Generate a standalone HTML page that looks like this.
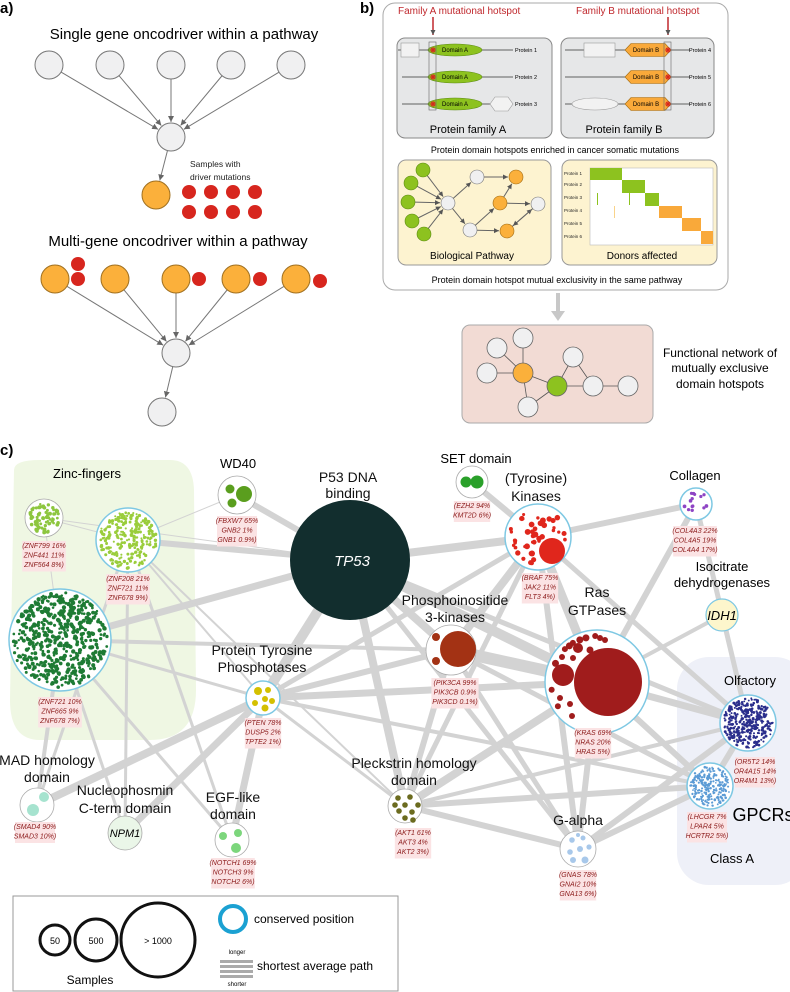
<!DOCTYPE html>
<html><head><meta charset="utf-8">
<style>
html,body{margin:0;padding:0;background:#fff;}
svg{display:block;font-family:"Liberation Sans",sans-serif;}
.g{font-style:italic;fill:#8b1a1a;font-size:7px;text-anchor:middle;}
.lab{font-size:14px;text-anchor:middle;fill:#111;}
</style></head><body>
<svg id="s" width="790" height="992" viewBox="0 0 790 992" xmlns="http://www.w3.org/2000/svg">
<defs>
<marker id="ah" markerWidth="7" markerHeight="7" refX="6" refY="3" orient="auto" markerUnits="userSpaceOnUse"><path d="M0,0 L6,3 L0,6 z" fill="#666"/></marker>
<marker id="ah2" markerWidth="6" markerHeight="6" refX="5" refY="2.5" orient="auto" markerUnits="userSpaceOnUse"><path d="M0,0 L5,2.5 L0,5 z" fill="#555"/></marker>
</defs>
<!-- panel a -->
<text x="0" y="13" font-size="15" font-weight="bold">a)</text>
<text x="184" y="39" font-size="15" text-anchor="middle">Single gene oncodriver within a pathway</text>
<g id="pa"></g>
<text x="190" y="167" font-size="8.5" fill="#222">Samples with</text>
<text x="190" y="180" font-size="8.5" fill="#222">driver mutations</text>
<text x="178" y="246" font-size="15" text-anchor="middle">Multi-gene oncodriver within a pathway</text>

<!-- panel b -->
<text x="360" y="13" font-size="15" font-weight="bold">b)</text>
<rect x="383" y="3" width="345" height="287" rx="12" fill="#fff" stroke="#aaa" stroke-width="1"/>
<text x="398" y="14" font-size="10" fill="#c0282d">Family A mutational hotspot</text>
<text x="576" y="14" font-size="10" fill="#c0282d">Family B mutational hotspot</text>
<rect x="397" y="38" width="155" height="100" rx="8" fill="#e6e7e8" stroke="#888"/>
<rect x="561" y="38" width="153" height="100" rx="8" fill="#e6e7e8" stroke="#888"/>
<g id="pb"></g>
<text x="468" y="133" font-size="11" text-anchor="middle">Protein family A</text>
<text x="624" y="133" font-size="11" text-anchor="middle">Protein family B</text>
<text x="555" y="153" font-size="9" text-anchor="middle">Protein domain hotspots enriched in cancer somatic mutations</text>
<rect x="398" y="160" width="153" height="105" rx="8" fill="#fdf3d0" stroke="#999"/>
<rect x="562" y="160" width="155" height="105" rx="8" fill="#fdf3d0" stroke="#999"/>
<g id="pbio"></g>
<text x="472" y="259" font-size="10" text-anchor="middle">Biological Pathway</text>
<rect x="590" y="168" width="123" height="77" fill="#fff" stroke="#bbb" stroke-width="0.6"/>
<rect x="590" y="168" width="32" height="12" fill="#8dc21f"/>
<rect x="622" y="180" width="23" height="13" fill="#8dc21f"/>
<rect x="645" y="193" width="14" height="13" fill="#8dc21f"/>
<rect x="659" y="206" width="23" height="12" fill="#f9a93a"/>
<rect x="682" y="218" width="19" height="13" fill="#f9a93a"/>
<rect x="701" y="231" width="12" height="13" fill="#f9a93a"/>
<rect x="597" y="193" width="1" height="12" fill="#8dc21f"/>
<rect x="629" y="193" width="1" height="12" fill="#8dc21f"/>
<rect x="614" y="206" width="1" height="12" fill="#f9d38a"/>
<g font-size="4.5" fill="#222">
<text x="564" y="175">Protein 1</text><text x="564" y="186">Protein 2</text><text x="564" y="199">Protein 3</text>
<text x="564" y="212">Protein 4</text><text x="564" y="225">Protein 5</text><text x="564" y="238">Protein 6</text></g>
<text x="642" y="259" font-size="10" text-anchor="middle">Donors affected</text>
<text x="557" y="283" font-size="9" text-anchor="middle">Protein domain hotspot mutual exclusivity in the same pathway</text>
<line x1="558" y1="293" x2="558" y2="312" stroke="#c8c8c8" stroke-width="4"/>
<path d="M551,311 L565,311 L558,321 z" fill="#c8c8c8"/>
<rect x="462" y="325" width="191" height="98" rx="8" fill="#f2dbd4" stroke="#aaa"/>
<g id="pfn"></g>
<g font-size="12" text-anchor="middle"><text x="720" y="357">Functional network of</text><text x="720" y="372">mutually exclusive</text><text x="720" y="388">domain hotspots</text></g>

<!-- panel c -->
<text x="0" y="455" font-size="15" font-weight="bold">c)</text>
<path d="M14,470 Q14,460 40,460 L170,460 Q193,460 194,490 L196,690 Q196,740 150,740 L40,740 Q10,740 10,700 Z" fill="#eff7e3"/>
<rect x="677" y="657" width="130" height="228" rx="32" fill="#eef0f8"/>
<g id="edges" stroke="#d3d3d3" stroke-linecap="butt"></g>
<g id="nodes"></g>
<text x="87" y="478" font-size="13" text-anchor="middle">Zinc-fingers</text>
<text x="238" y="468" font-size="13" text-anchor="middle">WD40</text>
<text x="348" y="482" class="lab">P53 DNA</text><text x="348" y="498" class="lab">binding</text>
<text x="476" y="463" font-size="13" text-anchor="middle">SET domain</text>
<text x="536" y="483" class="lab">(Tyrosine)</text><text x="536" y="501" class="lab">Kinases</text>
<text x="695" y="480" font-size="13" text-anchor="middle">Collagen</text>
<text x="722" y="571" font-size="13" text-anchor="middle">Isocitrate</text>
<text x="722" y="587" font-size="13" text-anchor="middle">dehydrogenases</text>
<text x="455" y="605" class="lab">Phosphoinositide</text><text x="455" y="622" class="lab">3-kinases</text>
<text x="597" y="597" class="lab">Ras</text><text x="597" y="615" class="lab">GTPases</text>
<text x="750" y="685" font-size="13" text-anchor="middle">Olfactory</text>
<text x="763" y="821" font-size="18" text-anchor="middle">GPCRs</text>
<text x="732" y="863" font-size="13" text-anchor="middle">Class A</text>
<text x="578" y="825" class="lab">G-alpha</text>
<text x="414" y="768" class="lab">Pleckstrin homology</text><text x="414" y="785" class="lab">domain</text>
<text x="262" y="655" class="lab">Protein Tyrosine</text><text x="262" y="672" class="lab">Phosphotases</text>
<text x="47" y="765" class="lab">MAD homology</text><text x="47" y="782" class="lab">domain</text>
<text x="125" y="795" class="lab">Nucleophosmin</text><text x="125" y="813" class="lab">C-term domain</text>
<text x="233" y="802" class="lab">EGF-like</text><text x="233" y="819" class="lab">domain</text>
<g id="gl"></g>
<text x="352" y="566" font-size="15" fill="#fff" font-style="italic" text-anchor="middle">TP53</text>
<text x="722" y="620" font-size="13" font-style="italic" text-anchor="middle">IDH1</text>
<text x="125" y="837" font-size="11" font-style="italic" text-anchor="middle">NPM1</text>

<!-- legend -->
<rect x="13" y="896" width="385" height="95" fill="#fff" stroke="#999"/>
<circle cx="55" cy="940" r="15" fill="none" stroke="#111" stroke-width="3"/>
<circle cx="96" cy="940" r="21" fill="none" stroke="#111" stroke-width="3"/>
<circle cx="158" cy="940" r="37" fill="none" stroke="#111" stroke-width="3"/>
<text x="55" y="944" font-size="9" text-anchor="middle">50</text>
<text x="96" y="944" font-size="9" text-anchor="middle">500</text>
<text x="158" y="944" font-size="9" text-anchor="middle">&gt; 1000</text>
<text x="90" y="984" font-size="12" text-anchor="middle">Samples</text>
<circle cx="233" cy="919" r="13" fill="none" stroke="#1ba1d2" stroke-width="4"/>
<text x="254" y="923" font-size="12">conserved position</text>
<text x="237" y="954" font-size="6" text-anchor="middle">longer</text>
<rect x="220" y="960" width="33" height="3" fill="#aaa"/><rect x="220" y="965" width="33" height="3" fill="#aaa"/>
<rect x="220" y="970" width="33" height="3" fill="#aaa"/><rect x="220" y="975" width="33" height="3" fill="#aaa"/>
<text x="237" y="986" font-size="6" text-anchor="middle">shorter</text>
<text x="257" y="970" font-size="12">shortest average path</text>
</svg>
<script>
(function(){
var NS="http://www.w3.org/2000/svg";
function el(p,t,a){var e=document.createElementNS(NS,t);for(var k in a)e.setAttribute(k,a[k]);p.appendChild(e);return e;}
function gid(i){return document.getElementById(i);}
function C(p,x,y,r,f,s,sw){return el(p,"circle",{cx:x,cy:y,r:r,fill:f,stroke:s||"none","stroke-width":sw||1});}
function arr(p,a,b,col,m){var dx=b[0]-a[0],dy=b[1]-a[1],d=Math.sqrt(dx*dx+dy*dy);
 el(p,"line",{x1:a[0]+dx/d*a[2],y1:a[1]+dy/d*a[2],x2:b[0]-dx/d*(b[2]+1),y2:b[1]-dy/d*(b[2]+1),stroke:col||"#777","stroke-width":1,"marker-end":"url(#"+(m||"ah")+")"});}
var pa=gid("pa"),gr="#f0f0f1",gs="#777",or="#fbb03b",rd="#d7261e";
var tops=[49,110,171,231,291],c1=[171,137,14];
tops.forEach(function(x){arr(pa,[x,65,14],c1);});
tops.forEach(function(x){C(pa,x,65,14,gr,gs);});
arr(pa,c1,[156,195,14]);C(pa,171,137,14,gr,gs);C(pa,156,195,14,or,"#a07020");
[189,211,233,255].forEach(function(x){C(pa,x,192,7,rd);C(pa,x,212,7,rd);});
var oxs=[55,115,176,236,296],c2=[176,353,14];
oxs.forEach(function(x){arr(pa,[x,279,14],c2);});
arr(pa,c2,[162,412,14]);
oxs.forEach(function(x){C(pa,x,279,14,or,"#a07020");});
C(pa,176,353,14,gr,gs);C(pa,162,412,14,gr,gs);
[[78,264],[78,279],[199,279],[260,279],[320,281]].forEach(function(q){C(pa,q[0],q[1],7,rd);});
var pb=gid("pb");
function star(x,y){el(pb,"path",{d:"M"+(x-3)+","+y+"h6M"+x+","+(y-3)+"v6M"+(x-2)+","+(y-2)+"l4,4M"+(x+2)+","+(y-2)+"l-4,4",stroke:"#d7261e","stroke-width":1});}
[50,77,104].forEach(function(y,i){
 el(pb,"line",{x1:i==0?398:402,y1:y,x2:513,y2:y,stroke:"#333","stroke-width":0.8});
 el(pb,"ellipse",{cx:455,cy:y,rx:27,ry:6,fill:"#8dc21f",stroke:"#5a8a10","stroke-width":0.6});
 el(pb,"text",{x:455,y:y+2,"font-size":6,"text-anchor":"middle"}).textContent="Domain A";
 star(433,y);
 el(pb,"text",{x:515,y:y+2,"font-size":5.5}).textContent="Protein "+(i+1);
 el(pb,"line",{x1:565,y1:y,x2:690,y2:y,stroke:"#333","stroke-width":0.8});
 el(pb,"path",{d:"M625,"+y+" l6,-6.5 h34 l6,6.5 l-6,6.5 h-34 z",fill:"#f9a93a",stroke:"#a06a10","stroke-width":0.6});
 el(pb,"text",{x:646,y:y+2,"font-size":6,"text-anchor":"middle"}).textContent="Domain B";
 star(668,y);
 el(pb,"text",{x:689,y:y+2,"font-size":5.5}).textContent="Protein "+(i+4);
});
el(pb,"rect",{x:401,y:43,width:18,height:14,fill:"#f2f2f2",stroke:"#999","stroke-width":0.6});
el(pb,"path",{d:"M490,104 l5,-7 h13 l5,7 l-5,7 h-13 z",fill:"#f2f2f2",stroke:"#999","stroke-width":0.6});
el(pb,"rect",{x:584,y:43,width:31,height:14,fill:"#f2f2f2",stroke:"#999","stroke-width":0.6});
el(pb,"ellipse",{cx:595,cy:104,rx:23,ry:6,fill:"#f2f2f2",stroke:"#999","stroke-width":0.6});
el(pb,"rect",{x:429,y:42,width:7,height:68,fill:"none",stroke:"#666","stroke-width":0.6});
el(pb,"rect",{x:664,y:42,width:7,height:68,fill:"none",stroke:"#666","stroke-width":0.6});
el(pb,"line",{x1:433,y1:17,x2:433,y2:35,stroke:"#c0282d","stroke-width":1.5,"marker-end":"url(#ah2)"});
el(pb,"line",{x1:668,y1:17,x2:668,y2:35,stroke:"#c0282d","stroke-width":1.5,"marker-end":"url(#ah2)"});
var bp=gid("pbio"),G="#8dc21f",W="#f0f0f1",O="#fbb03b";
var hub=[448,203,7];
[[423,170],[411,183],[408,202],[412,221],[424,234]].forEach(function(q){arr(bp,[q[0],q[1],7],hub,"#666","ah2");C(bp,q[0],q[1],7,G,"#5a8a10",0.6);});
var N={a:[477,177,7],b:[516,177,7],c:[500,203,7],d:[538,204,7],e:[470,230,7],f:[507,231,7]};
arr(bp,hub,N.a,"#666","ah2");arr(bp,N.a,N.b,"#666","ah2");arr(bp,hub,N.e,"#666","ah2");arr(bp,N.e,N.c,"#666","ah2");arr(bp,N.c,N.b,"#666","ah2");
arr(bp,N.c,N.d,"#666","ah2");arr(bp,N.e,N.f,"#666","ah2");arr(bp,N.f,N.d,"#666","ah2");arr(bp,N.d,N.f,"#666","ah2");
C(bp,448,203,7,W,"#777",0.6);C(bp,477,177,7,W,"#777",0.6);C(bp,516,177,7,O,"#a06a10",0.6);C(bp,500,203,7,O,"#a06a10",0.6);
C(bp,538,204,7,W,"#777",0.6);C(bp,470,230,7,W,"#777",0.6);C(bp,507,231,7,O,"#a06a10",0.6);
var fn=gid("pfn");var F={a:[497,348],b:[523,338],c:[487,373],o:[523,373],d:[528,407],g:[557,386],e:[573,357],f:[593,386],h:[628,386]};
[["a","o"],["b","o"],["c","o"],["o","d"],["o","g"],["d","g"],["g","e"],["e","f"],["g","f"],["f","h"]].forEach(function(p){el(fn,"line",{x1:F[p[0]][0],y1:F[p[0]][1],x2:F[p[1]][0],y2:F[p[1]][1],stroke:"#555","stroke-width":0.8});});
for(var k in F){C(fn,F[k][0],F[k][1],10,k=="o"?O:k=="g"?G:W,"#666",0.8);}
var P={zs:[44,518,19],zm:[128,540,32],zb:[60,640,51],wd:[237,495,19],tp:[350,560,60],set:[472,482,16],ki:[538,537,33],co:[696,504,16],id:[722,615,16],pi:[451,650,25],ras:[597,682,52],olf:[748,723,28],gp:[710,786,23],ga:[578,849,18],pl:[405,806,17],ptp:[263,698,17],mad:[37,805,17],npm:[125,833,17],egf:[232,840,17]};
var E=[["tp","zm",6],["tp","wd",6],["tp","zb",7],["tp","ki",8],["tp","ptp",10],["tp","pi",8],["tp","ras",10],["tp","pl",8],["tp","olf",5],["tp","ga",5],["tp","zs",1],
["ki","set",6],["ki","co",6],["ki","ras",9],["ki","pi",8],["ki","ga",6],["ki","olf",5],["ki","pl",5],["ki","ptp",5],
["co","olf",5],["co","ras",6],["id","ras",4],["ras","pi",12],["ras","olf",7],["ras","gp",6],["ras","ga",6],["ras","pl",8],["ras","ptp",7],
["pi","ptp",6],["pi","pl",6],["pi","ga",5],["pi","gp",5],["pi","zb",4],
["ptp","zb",3],["ptp","zm",2],["ptp","mad",8],["ptp","npm",7],["ptp","egf",7],["ptp","pl",3],["ptp","gp",4],
["zb","mad",4],["zb","npm",3],["zb","egf",3],["zm","npm",3],["zm","egf",3],["zm","pl",2],["zs","zm",1],["zs","zb",1],["zm","mad",3],["zm","wd",1],
["pl","gp",6],["pl","ga",6],["pl","olf",4],["ga","gp",6],["ga","olf",6],["olf","gp",6]];
var eg=gid("edges");E.forEach(function(e){var a=P[e[0]],b=P[e[1]];el(eg,"line",{x1:a[0],y1:a[1],x2:b[0],y2:b[1],"stroke-width":e[2]});});
var nd=gid("nodes");var seed=7;function rnd(){seed=(seed*16807)%2147483647;return seed/2147483647;}
var BL="#7ec8e3";
function node(k,fill,ring){var p=P[k];C(nd,p[0],p[1],p[2],fill,ring?BL:"#aaa",ring?1.5:0.8);}
function dots(k,n,col,rmin,rmax,ex){var p=P[k],R=p[2]-2;for(var i=0;i<n;i++){var t=0;while(t++<50){var a=rnd()*6.283,d=Math.sqrt(rnd())*R,r=rmin+rnd()*(rmax-rmin);var x=p[0]+Math.cos(a)*d,y=p[1]+Math.sin(a)*d;if(d+r>R)continue;if(ex&&Math.hypot(x-ex[0],y-ex[1])<ex[2]+r+1)continue;C(nd,x,y,r,col);break;}}}
node("zs","#fff");dots("zs",70,"#8dc63f",1.2,2);
node("zm","#fff",1);dots("zm",260,"#9acd3c",1,1.8);
node("zb","#fff",1);dots("zb",520,"#1e7b34",1.2,2.2);
node("wd","#fff");C(nd,244,494,8,"#5a9e1e");C(nd,230,489,4.5,"#5a9e1e");C(nd,232,503,4.5,"#5a9e1e");
C(nd,350,560,60,"#122e2e");
node("set","#fff");C(nd,466,482,5.5,"#2aa02a");C(nd,477,482,6.5,"#2aa02a");
node("ki","#fff",1);C(nd,552,551,13,"#e0261c");dots("ki",45,"#e0261c",1.5,3,[552,551,13]);
node("co","#fff",1);dots("co",14,"#8e44c4",1.5,1.9);
C(nd,722,615,16,"#fdf6cc",BL,1.2);
node("pi","#fff");C(nd,458,649,18,"#a33214");C(nd,436,637,4,"#a33214");C(nd,436,661,4,"#a33214");
node("ras","#fff",1);C(nd,608,682,34,"#a01c1c");C(nd,563,675,11,"#a01c1c");
[[565,630,3],[575,628,3.5],[585,634,3.5],[595,631,3],[605,640,3],[558,642,3],[568,644,3.5],[578,648,5],[590,650,3.5],[548,660,3.5],[562,657,3],[573,658,3],[550,690,3],[560,698,3],[570,704,3],[555,708,3],[572,716,3],[600,638,3]].forEach(function(q){
 var dx=q[0]-597,dy=q[1]-682,d=Math.sqrt(dx*dx+dy*dy),lim=52-q[2]-3;
 var x=q[0],y=q[1];if(d>lim){x=597+dx/d*lim;y=682+dy/d*lim;}
 C(nd,x,y,q[2],"#a01c1c");});
node("olf","#fff",1);dots("olf",330,"#2a2e8c",0.9,1.5);
node("gp","#fff",1);dots("gp",230,"#5b9bd5",0.8,1.3);
node("ga","#fff");[[572,840,2.8],[583,838,2.5],[570,852,2.8],[580,849,3],[589,847,2.6],[573,860,3],[585,860,3.5],[578,835,2]].forEach(function(q){C(nd,q[0],q[1],q[2],"#a8c8ea");});
node("pl","#fff");[[398,798],[410,797],[399,811],[405,805],[412,812],[418,805],[395,805],[405,818],[413,820]].forEach(function(q){C(nd,q[0],q[1],2.8,"#6b6b1f");});
node("ptp","#fff",1);[[258,691,4],[268,690,3],[265,699,3],[255,703,3],[272,701,3],[265,708,3.5]].forEach(function(q){C(nd,q[0],q[1],q[2],"#d4c000");});
node("mad","#fff");C(nd,44,797,5,"#a6e3cf");C(nd,33,810,6,"#a6e3cf");
C(nd,125,833,17,"#eaf6e8","#aaa",0.8);
node("egf","#fff");C(nd,223,836,4,"#7cd67c");C(nd,238,833,4,"#7cd67c");C(nd,236,848,5,"#7cd67c");
var gl=gid("gl");
function lbl(x,y,lines){var w=0;lines.forEach(function(s){w=Math.max(w,s.length*3.6);});el(gl,"rect",{x:x-w/2-2,y:y-7,width:w+4,height:lines.length*9.5+2,fill:"#fbe3e4"});
 lines.forEach(function(s,i){var t=el(gl,"text",{x:x,y:y+i*9.5,"class":"g"});t.textContent=s;});}
lbl(44,548,["(ZNF799 16%","ZNF441 11%","ZNF564 8%)"]);
lbl(128,581,["(ZNF208 21%","ZNF721 11%","ZNF678 9%)"]);
lbl(60,704,["(ZNF721 10%","ZNF665 9%","ZNF678 7%)"]);
lbl(237,523,["(FBXW7 65%","GNB2 1%","GNB1 0.9%)"]);
lbl(472,508,["(EZH2 94%","KMT2D 6%)"]);
lbl(540,580,["(BRAF 75%","JAK2 11%","FLT3 4%)"]);
lbl(695,533,["(COL4A3 22%","COL4A5 19%","COL4A4 17%)"]);
lbl(455,685,["(PIK3CA 99%","PIK3CB 0.9%","PIK3CD 0.1%)"]);
lbl(593,735,["(KRAS 69%","NRAS 20%","HRAS 5%)"]);
lbl(755,764,["(OR5T2 14%","OR4A15 14%","OR4M1 13%)"]);
lbl(707,819,["(LHCGR 7%","LPAR4 5%","HCRTR2 5%)"]);
lbl(578,877,["(GNAS 78%","GNAI2 10%","GNA13 6%)"]);
lbl(413,835,["(AKT1 61%","AKT3 4%","AKT2 3%)"]);
lbl(263,725,["(PTEN 78%","DUSP5 2%","TPTE2 1%)"]);
lbl(35,829,["(SMAD4 90%","SMAD3 10%)"]);
lbl(233,865,["(NOTCH1 69%","NOTCH3 9%","NOTCH2 6%)"]);
})();
</script>
</body></html>
